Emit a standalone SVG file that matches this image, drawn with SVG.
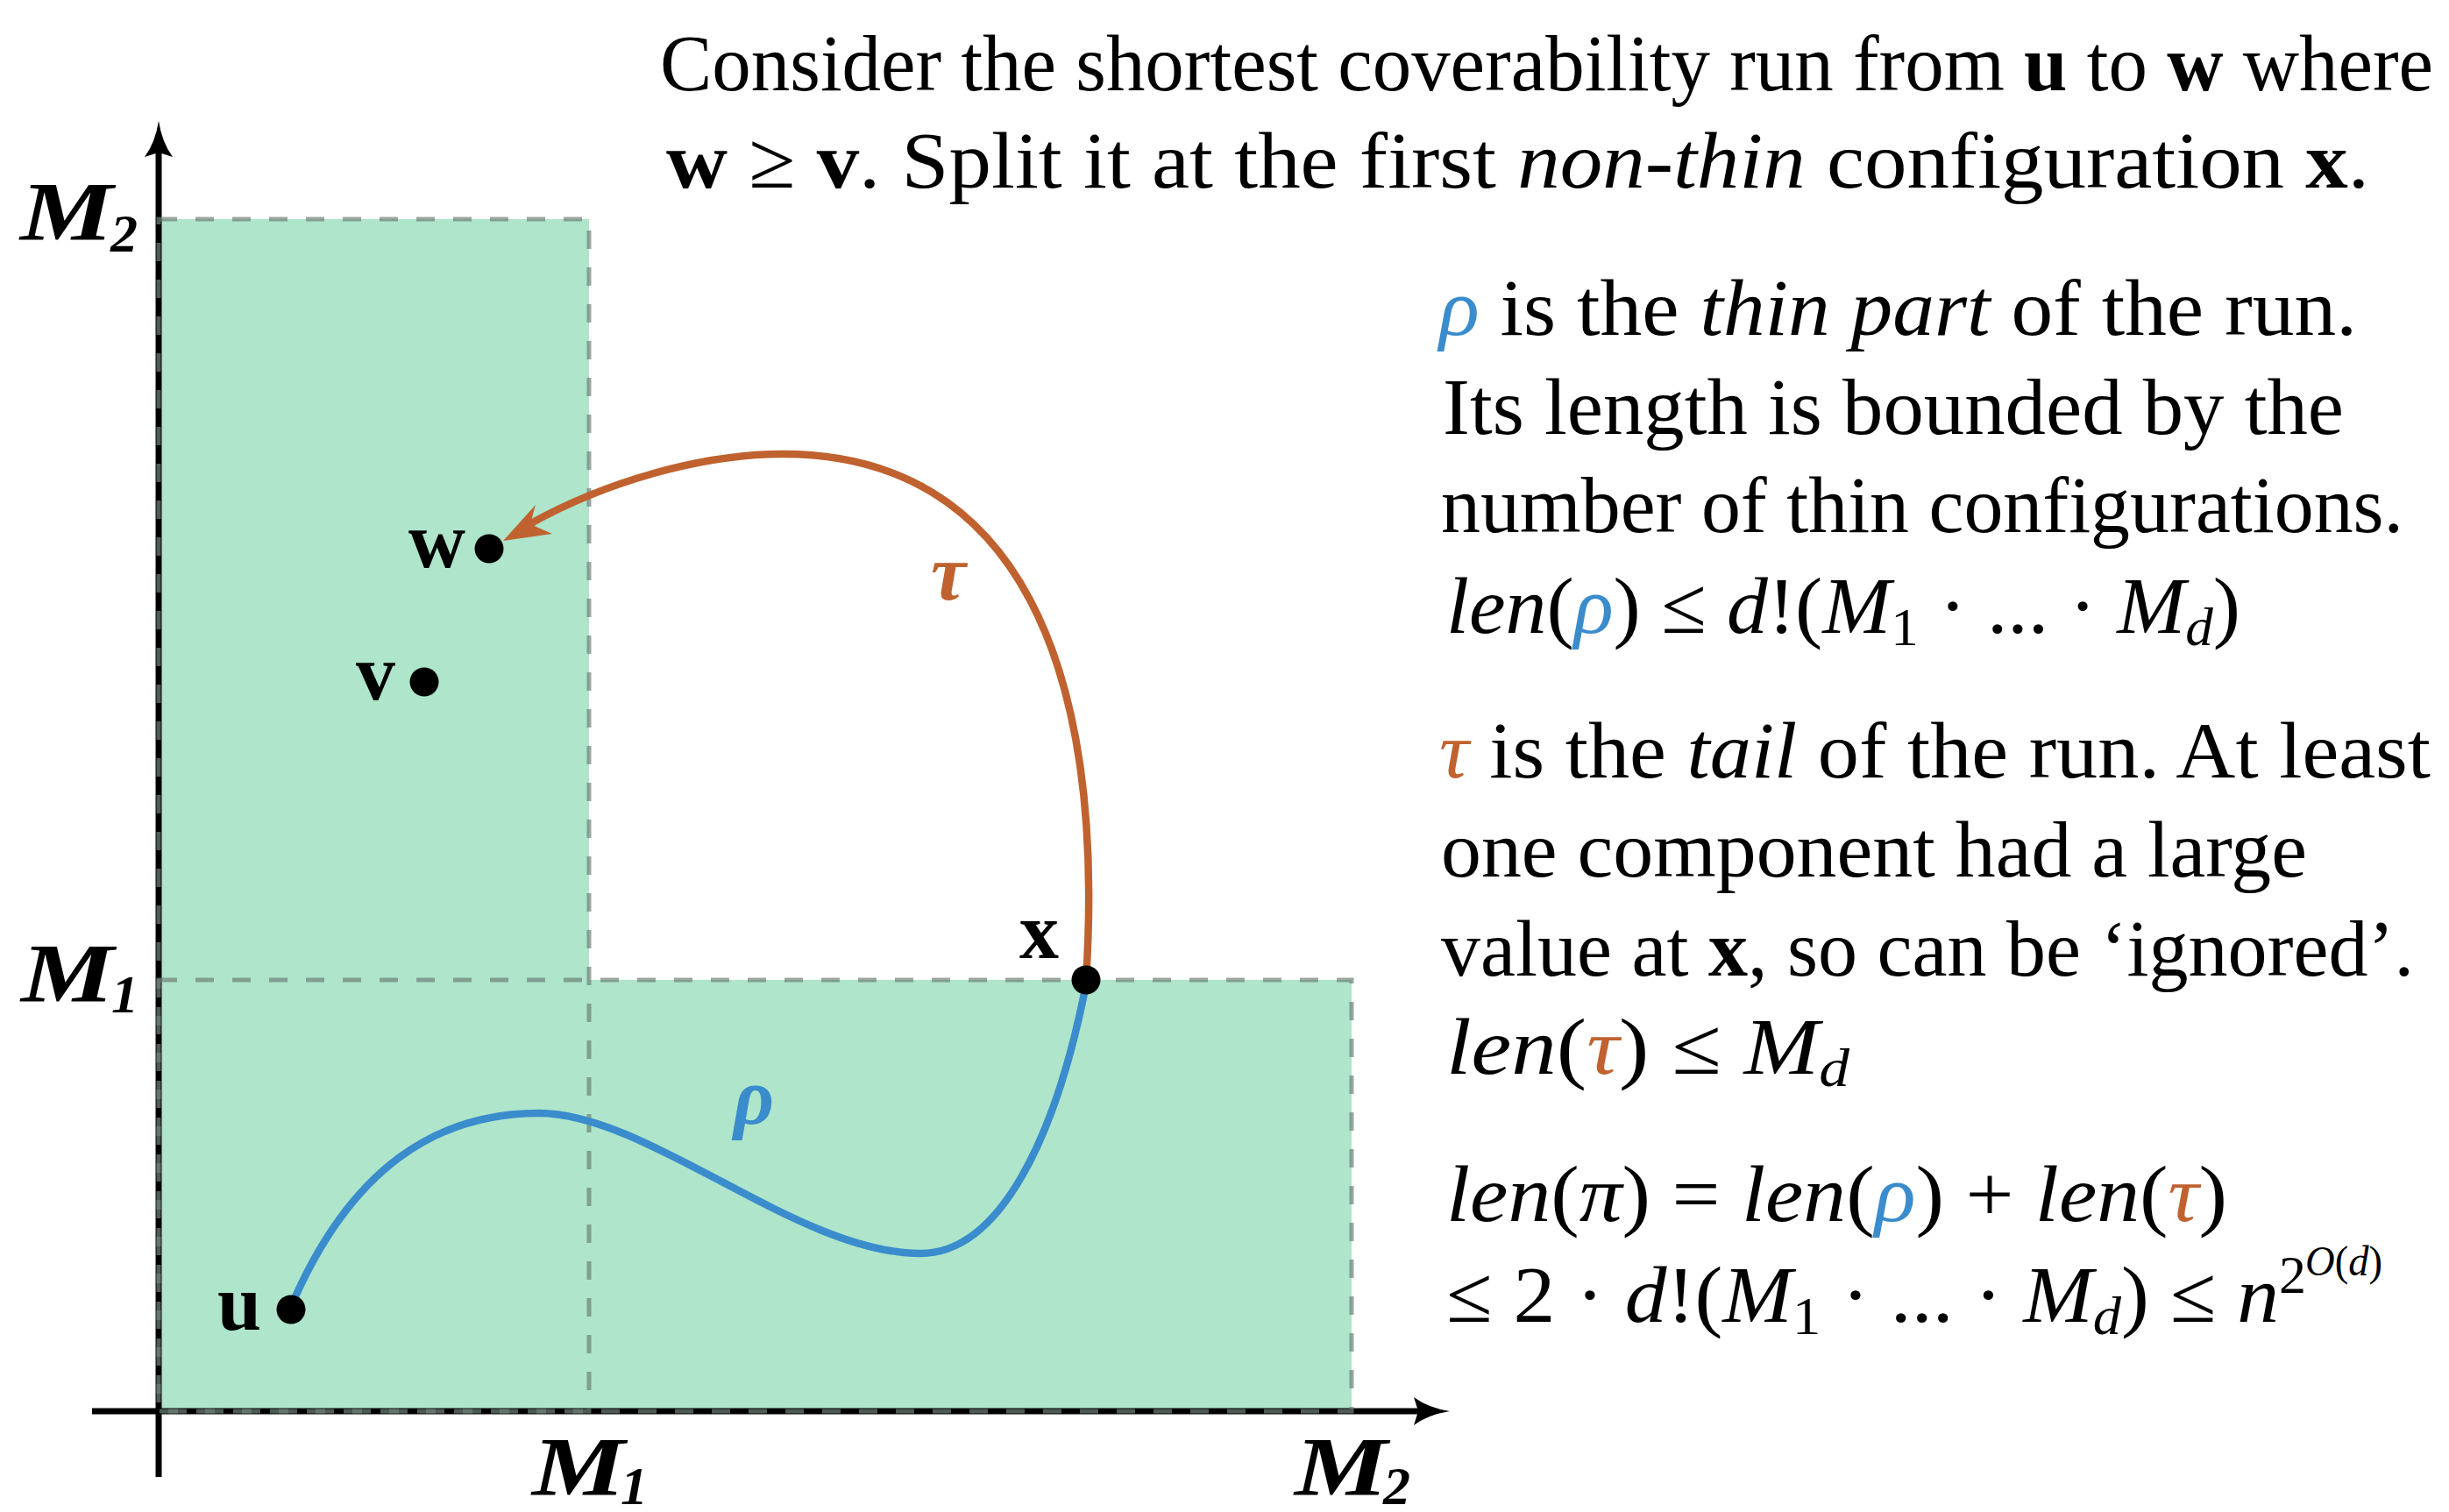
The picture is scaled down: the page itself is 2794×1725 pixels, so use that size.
<svg xmlns="http://www.w3.org/2000/svg" width="2794" height="1725" viewBox="0 0 2794 1725">
<style>
.t{font-family:"Liberation Serif","Times New Roman",serif;font-size:92px;fill:#000}
.b{font-weight:bold}
.i{font-style:italic}
.lbl{font-family:"Liberation Serif","Times New Roman",serif;font-size:90px;font-weight:bold;fill:#000}
.ml{font-family:"Liberation Serif","Times New Roman",serif;font-size:96px;font-weight:bold;font-style:italic;fill:#000}
.sub{font-size:62px}
.blue{fill:#3a8ccc}
.orange{fill:#c0622f}
.dash{fill:none;stroke:#6f8078;stroke-opacity:0.7;stroke-width:5;stroke-dasharray:21 21}
.axis{stroke:#000;stroke-width:7;fill:none}
.dot{fill:#000}
</style>
<rect width="2794" height="1725" fill="#fff"/>
<g id="region">
<path d="M181,250 H672 V1118 H1542 V1610 H181 Z" fill="#aee5cb"/>
</g>
<g id="axes">
<line class="axis" x1="181" y1="1685" x2="181" y2="172"/>
<path d="M181,138 Q185,163 197,179 L181,174 L165,179 Q177,163 181,138 Z" fill="#000"/>
<line class="axis" x1="105" y1="1610" x2="1620" y2="1610"/>
<path d="M1654,1610 Q1629,1614 1613,1626 L1618,1610 L1613,1594 Q1629,1606 1654,1610 Z" fill="#000"/>
</g>
<g id="bounds">
<rect class="dash" x="181" y="250" width="491" height="1360"/>
<rect class="dash" x="181" y="1118" width="1361" height="492"/>
</g>
<g id="axis-labels">
<text class="ml" x="23" y="274" textLength="106" lengthAdjust="spacingAndGlyphs">M</text><text class="ml sub" x="126" y="287">2</text>
<text class="ml" x="24" y="1143" textLength="106" lengthAdjust="spacingAndGlyphs">M</text><text class="ml sub" x="127" y="1155">1</text>
<text class="ml" x="607" y="1706" textLength="106" lengthAdjust="spacingAndGlyphs">M</text><text class="ml sub" x="708" y="1716">1</text>
<text class="ml" x="1477" y="1706" textLength="106" lengthAdjust="spacingAndGlyphs">M</text><text class="ml sub" x="1578" y="1716">2</text>
</g>
<g id="connectors">
<path id="rho" d="M331,1493 C400,1330 500,1270 615,1270 C740,1270 910,1430 1050,1430 C1140,1430 1205,1300 1240,1118" fill="none" stroke="#3a8ccc" stroke-width="8.5" stroke-linecap="round"/>
<path id="tau" d="M1239,1118 C1262,760 1160,518 893,518 C800,518 690,550 604,598" fill="none" stroke="#c0622f" stroke-width="8.5"/>
<path d="M574,617 L611,576 L605,598 L630,609 Z" fill="#c0622f"/>
<text class="lbl i blue" x="837" y="1282">ρ</text>
<text class="lbl i orange" x="1062" y="684">τ</text>
</g>
<g id="node-u"><circle class="dot" cx="332" cy="1494" r="16.5"/><text class="lbl" x="248" y="1517">u</text></g>
<g id="node-v"><circle class="dot" cx="484" cy="778" r="16.5"/><text class="lbl" x="406" y="798">v</text></g>
<g id="node-w"><circle class="dot" cx="558" cy="626" r="16.5"/><text class="lbl" x="466" y="647">w</text></g>
<g id="node-x"><circle class="dot" cx="1239" cy="1118" r="16.5"/><text class="lbl" x="1163" y="1093">x</text></g>
<g id="text">
<text class="t" x="753" y="103" textLength="2023" lengthAdjust="spacingAndGlyphs">Consider the shortest coverability run from <tspan class="b">u</tspan> to <tspan class="b">w</tspan> where</text>
<text class="t" x="760" y="214" textLength="1943" lengthAdjust="spacingAndGlyphs"><tspan class="b">w</tspan> ≥ <tspan class="b">v</tspan>. Split it at the first <tspan class="i">non-thin</tspan> configuration <tspan class="b">x</tspan>.</text>
<text class="t" x="1642" y="382" textLength="1047" lengthAdjust="spacingAndGlyphs"><tspan class="i blue">ρ</tspan> is the <tspan class="i">thin part</tspan> of the run.</text>
<text class="t" x="1646" y="495" textLength="1028" lengthAdjust="spacingAndGlyphs">Its length is bounded by the</text>
<text class="t" x="1644" y="607" textLength="1098" lengthAdjust="spacingAndGlyphs">number of thin configurations.</text>
<text class="t" x="1650" y="722" textLength="906" lengthAdjust="spacingAndGlyphs"><tspan class="i">len</tspan>(<tspan class="i blue">ρ</tspan>) ≤ <tspan class="i">d</tspan>!(<tspan class="i">M</tspan><tspan class="sub" dy="14">1</tspan><tspan dy="-14"> · ... · </tspan><tspan class="i">M</tspan><tspan class="sub i" dy="14">d</tspan><tspan dy="-14">)</tspan></text>
<text class="t" x="1642" y="887" textLength="1131" lengthAdjust="spacingAndGlyphs"><tspan class="i orange">τ</tspan> is the <tspan class="i">tail</tspan> of the run.  At least</text>
<text class="t" x="1644" y="1000" textLength="988" lengthAdjust="spacingAndGlyphs">one component had a large</text>
<text class="t" x="1644" y="1113" textLength="1110" lengthAdjust="spacingAndGlyphs">value at <tspan class="b">x</tspan>, so can be ‘ignored’.</text>
<text class="t" x="1650" y="1225" textLength="460" lengthAdjust="spacingAndGlyphs"><tspan class="i">len</tspan>(<tspan class="i orange">τ</tspan>) ≤ <tspan class="i">M</tspan><tspan class="sub i" dy="14">d</tspan></text>
<text class="t" x="1650" y="1393" textLength="891" lengthAdjust="spacingAndGlyphs"><tspan class="i">len</tspan>(<tspan class="i">π</tspan>) = <tspan class="i">len</tspan>(<tspan class="i blue">ρ</tspan>) + <tspan class="i">len</tspan>(<tspan class="i orange">τ</tspan>)</text>
<text class="t" x="1650" y="1508" textLength="950" lengthAdjust="spacingAndGlyphs">≤ 2 · <tspan class="i">d</tspan>!(<tspan class="i">M</tspan><tspan class="sub" dy="14">1</tspan><tspan dy="-14"> · ... · </tspan><tspan class="i">M</tspan><tspan class="sub i" dy="14">d</tspan><tspan dy="-14">) ≤ </tspan><tspan class="i">n</tspan></text>
<text class="t sub" x="2600" y="1475">2</text>
<text class="t i" x="2630" y="1455" style="font-size:48px" textLength="88" lengthAdjust="spacingAndGlyphs">O<tspan style="font-style:normal">(</tspan>d<tspan style="font-style:normal">)</tspan></text>
</g>
</svg>
